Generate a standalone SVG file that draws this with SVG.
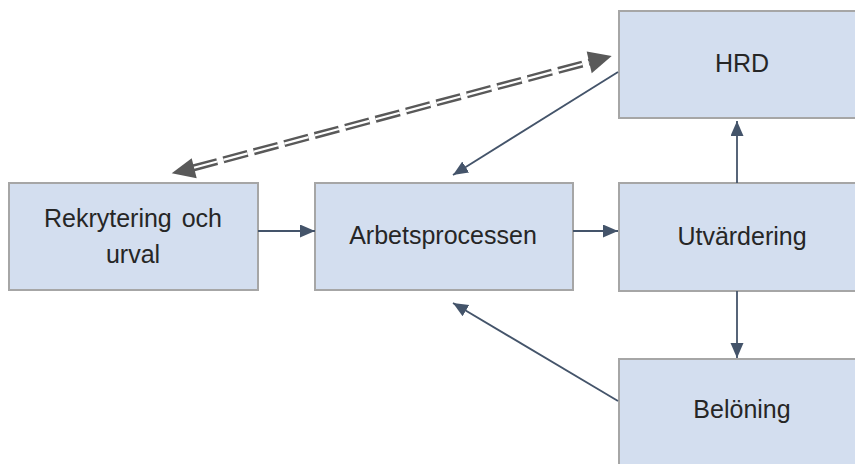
<svg xmlns="http://www.w3.org/2000/svg" width="855" height="464" viewBox="0 0 855 464">
  <style>
    .box { fill: #d3deef; stroke: #a6a6a6; stroke-width: 2; }
    .label { font-family: "Liberation Sans", Arial, sans-serif; font-size: 25px; fill: #262626; text-anchor: middle; }
    .flow { stroke: #44546a; stroke-width: 1.8; fill: none; marker-end: url(#head); }
    .dbl-outer { stroke: #595959; stroke-width: 7; stroke-dasharray: 25 6.5; fill: none; }
    .dbl-inner { stroke: #ffffff; stroke-width: 2.2; stroke-dasharray: 25 6.5; fill: none; }
  </style>
  <defs>
    <marker id="head" markerUnits="userSpaceOnUse" markerWidth="16" markerHeight="14" refX="15" refY="6.5" orient="auto">
      <path d="M0,0 L15,6.5 L0,13 Z" fill="#44546a"/>
    </marker>
  </defs>
  <rect width="855" height="464" fill="#ffffff"/>

  <g id="hrd">
    <rect class="box" x="619" y="11" width="258" height="107"/>
    <text class="label" x="742" y="72">HRD</text>
  </g>
  <g id="rekrytering">
    <rect class="box" x="9" y="183" width="249" height="107"/>
    <text class="label" x="133" y="227" word-spacing="3">Rekrytering och</text>
    <text class="label" x="133" y="263">urval</text>
  </g>
  <g id="arbetsprocessen">
    <rect class="box" x="315" y="183" width="258" height="107"/>
    <text class="label" x="443" y="244">Arbetsprocessen</text>
  </g>
  <g id="utvardering">
    <rect class="box" x="619" y="183" width="258" height="108"/>
    <text class="label" x="742" y="245">Utvärdering</text>
  </g>
  <g id="beloning">
    <rect class="box" x="619" y="359" width="258" height="120"/>
    <text class="label" x="742" y="418">Belöning</text>
  </g>

  <g id="connectors">
    <line class="flow" x1="258" y1="231" x2="315" y2="231"/>
    <line class="flow" x1="573" y1="231" x2="618" y2="231"/>
    <line class="flow" x1="737" y1="183" x2="737" y2="121"/>
    <line class="flow" x1="737" y1="291" x2="737" y2="358"/>
    <line class="flow" x1="618" y1="401" x2="453" y2="303"/>
    <line class="flow" x1="618" y1="72" x2="453" y2="175"/>
    <g id="hrd-rekrytering">
      <line class="dbl-outer" x1="193" y1="168" x2="590" y2="62"/>
      <line class="dbl-inner" x1="193" y1="168" x2="590" y2="62"/>
      <path d="M611.7,56 L586.7,51.5 L591.7,73.3 Z" fill="#595959"/>
      <path d="M171.7,173.3 L191.7,158.3 L196.7,178.3 Z" fill="#595959"/>
    </g>
  </g>
</svg>
